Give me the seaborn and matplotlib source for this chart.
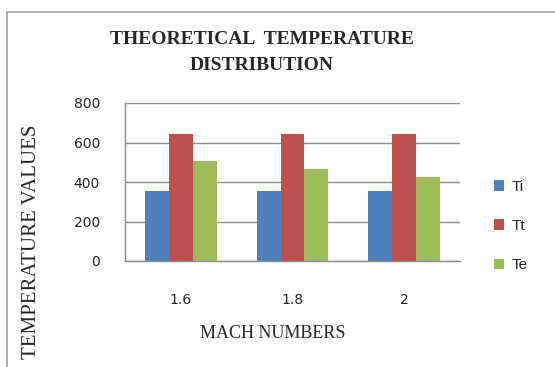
import matplotlib
matplotlib.use("Agg")
import matplotlib.pyplot as plt
import seaborn as sns
import pandas as pd
from matplotlib.patches import Rectangle

mach = ["1.6", "1.8", "2"]
ti = [355, 355, 355]
tt = [645, 645, 645]
te = [507, 467, 427]
series = ["Ti", "Tt", "Te"]
colors = ["#4F81BD", "#C0504D", "#9BBB59"]
yticks = [0, 200, 400, 600, 800]

rows = []
for name, vals in zip(series, [ti, tt, te]):
    for m, v in zip(mach, vals):
        rows.append({"Mach": m, "Series": name, "Value": v})
df = pd.DataFrame(rows)

sns.set_style("white")
fig = plt.figure(figsize=(5.55, 3.67), dpi=100)
ax = fig.add_axes([125/555, 1-261/367, (460-125)/555, (261-103)/367])

sns.barplot(data=df, x="Mach", y="Value", hue="Series", order=mach,
            hue_order=series, palette=colors, width=0.64, gap=0,
            saturation=1, ax=ax, edgecolor="none", linewidth=0)

ax.set_xlim(-0.5, 2.5)
ax.set_ylim(0, 800)
ax.set_yticks(yticks)
ax.set_yticklabels([str(t) for t in yticks], fontsize=10, family="DejaVu Sans", color="#222222")
ax.set_xticks(range(len(mach)))
ax.set_xticklabels(mach, fontsize=10, family="DejaVu Sans", color="#222222")
ax.tick_params(axis="y", length=3, color="#888888", pad=15)
ax.tick_params(axis="x", length=0, pad=23)
ax.grid(axis="y", color="#8c8c8c", linewidth=1)
ax.set_axisbelow(True)
for s in ["top", "right"]:
    ax.spines[s].set_visible(False)
for s in ["left", "bottom"]:
    ax.spines[s].set_color("#8c8c8c")
    ax.spines[s].set_linewidth(1)

ax.set_xlabel("")
ax.set_ylabel("")
fig.text(273/555, 1-333/367, "MACH NUMBERS", ha="center", va="center",
         fontsize=13, family="Liberation Serif")
fig.text(32/555, 1-242/367, "TEMPERATURE VALUES", ha="center", va="center",
         rotation=90, fontsize=15, family="Liberation Serif")
fig.text(262/555, 1-40/367, "THEORETICAL  TEMPERATURE", ha="center", va="center",
         fontsize=14, family="Liberation Serif", weight="bold")
fig.text(262/555, 1-66/367, "DISTRIBUTION", ha="center", va="center",
         fontsize=14, family="Liberation Serif", weight="bold")

handles, labels = ax.get_legend_handles_labels()
ax.legend(handles, labels, loc="center left", bbox_to_anchor=(480/555, 1-226/367),
          bbox_transform=fig.transFigure, frameon=False, handlelength=0.7,
          handleheight=0.7, handletextpad=0.5, labelspacing=1.65,
          prop={"family": "Liberation Sans", "size": 11})

fig.patches.append(Rectangle((7/555, -0.1), 1.2, 1.1 - 12/367,
                             transform=fig.transFigure, fill=False,
                             edgecolor="#a0a0a0", linewidth=1.2, figure=fig))

fig.savefig("out.png", dpi=100)
